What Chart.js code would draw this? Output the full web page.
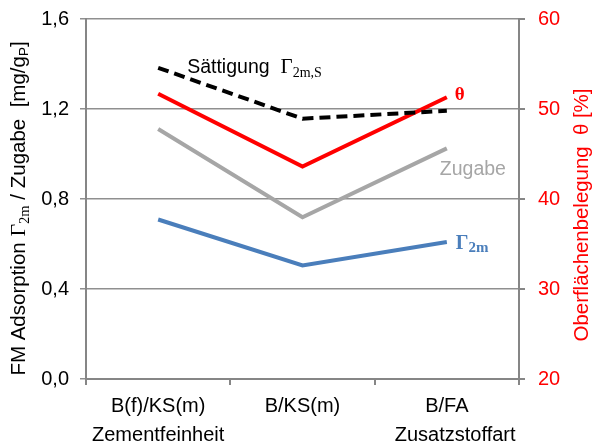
<!DOCTYPE html>
<html><head><meta charset="utf-8">
<script src="https://cdn.jsdelivr.net/npm/chart.js@4/dist/chart.umd.min.js"></script>
<style>html,body{margin:0;padding:0;background:#fff}</style>
</head><body>
<div style="width:594px;height:447px"><canvas id="c" width="594" height="447"></canvas></div>
<script>
const categories = [['B(f)/KS(m)','Zementfeinheit'],['B/KS(m)',''],['B/FA','   Zusatzstoffart']];
const saettigung = [1.383, 1.157, 1.192];
const theta = [51.7, 43.6, 51.3];
const zugabe = [1.111, 0.719, 1.025];
const gamma2m = [0.709, 0.505, 0.609];
const leftTicks = [0, 0.4, 0.8, 1.2, 1.6];
const rightTicks = [20, 30, 40, 50, 60];

const SANS = '"Liberation Sans", Arial, sans-serif';
const SERIF = '"Liberation Serif", "Times New Roman", serif';
const GRID = '#8f8f8f';
const AXIS = '#868686';
const RED = '#ff0000';
const BLUE = '#4a7ebb';
const GRAY = '#a6a6a6';

function richWidth(ctx, segs){
  let w = 0;
  for (const s of segs){
    if (s.gap) { w += s.gap; continue; }
    ctx.font = s.font; w += ctx.measureText(s.text).width;
  }
  return w;
}
function drawRich(ctx, segs, x, y){ // x = start, y = baseline
  let cx = x;
  for (const s of segs){
    if (s.gap) { cx += s.gap; continue; }
    ctx.font = s.font; ctx.fillStyle = s.color;
    ctx.fillText(s.text, cx, y + (s.dy || 0));
    cx += ctx.measureText(s.text).width;
  }
}

const annotations = {
  id: 'annotations',
  afterDatasetsDraw(chart){
    const ctx = chart.ctx;
    const pt = (d, i) => chart.getDatasetMeta(d).data[i];
    ctx.save();
    ctx.textAlign = 'left';
    ctx.textBaseline = 'alphabetic';
    // Sättigung label
    const p0 = pt(0, 0);
    drawRich(ctx, [
      {text: 'Sättigung', font: '19.5px ' + SANS, color: '#000'},
      {gap: 11},
      {text: 'Γ', font: '21px ' + SERIF, color: '#000'},
      {text: '2m,S', font: '14px ' + SERIF, color: '#000', dy: 4}
    ], p0.x + 29, p0.y + 5);
    // theta label
    const p1 = pt(1, 2);
    drawRich(ctx, [{text: 'θ', font: 'bold 19px ' + SERIF, color: RED}], p1.x + 8, p1.y + 3);
    // Zugabe label
    const p2 = pt(2, 2);
    drawRich(ctx, [{text: 'Zugabe', font: '19.5px ' + SANS, color: GRAY}], p2.x - 7, p2.y + 27);
    // Gamma2m label
    const p3 = pt(3, 2);
    drawRich(ctx, [
      {text: 'Γ', font: 'bold 20px ' + SERIF, color: BLUE},
      {text: '2m', font: 'bold 15px ' + SERIF, color: BLUE, dy: 3}
    ], p3.x + 9, p3.y + 7);

    // left axis title
    const F = '20.5px ' + SANS;
    const leftSegs = [
      {text: 'FM Adsorption ', font: F, color: '#000'},
      {text: 'Γ', font: '22px ' + SERIF, color: '#000'},
      {text: '2m', font: '14.5px ' + SERIF, color: '#000', dy: 4},
      {text: ' / Zugabe  [mg/g', font: F, color: '#000'},
      {text: 'P', font: '13.5px ' + SANS, color: '#000', dy: 3},
      {text: ']', font: F, color: '#000'}
    ];
    ctx.save();
    ctx.translate(25, 208.5);
    ctx.rotate(-Math.PI / 2);
    drawRich(ctx, leftSegs, -richWidth(ctx, leftSegs) / 2, 0);
    ctx.restore();
    // right axis title
    const rightSegs = [{text: 'Oberflächenbelegung  θ [%]', font: '20.4px ' + SANS, color: RED}];
    ctx.save();
    ctx.translate(588, 215);
    ctx.rotate(-Math.PI / 2);
    drawRich(ctx, rightSegs, -richWidth(ctx, rightSegs) / 2, 0);
    ctx.restore();
    ctx.restore();
  }
};

function noPad(s){ s.paddingTop = 0; s.paddingBottom = 0; s.paddingLeft = 0; s.paddingRight = 0; }

new Chart(document.getElementById('c'), {
  type: 'line',
  data: {
    labels: categories,
    datasets: [
      {label: 'Sättigung', data: saettigung, yAxisID: 'y', borderColor: '#000', borderWidth: 4, borderDash: [11, 6], borderCapStyle: 'butt', order: 1},
      {label: 'θ', data: theta, yAxisID: 'y1', borderColor: RED, borderWidth: 4, order: 2},
      {label: 'Zugabe', data: zugabe, yAxisID: 'y', borderColor: GRAY, borderWidth: 4, order: 3},
      {label: 'Γ2m', data: gamma2m, yAxisID: 'y', borderColor: BLUE, borderWidth: 4, order: 4}
    ]
  },
  options: {
    responsive: false,
    animation: false,
    events: [],
    elements: {point: {radius: 0, hoverRadius: 0, hitRadius: 0}, line: {tension: 0, fill: false, borderJoinStyle: 'miter'}},
    layout: {autoPadding: false, padding: {top: 19, left: 0, right: 0, bottom: 0}},
    plugins: {legend: {display: false}, tooltip: {enabled: false}},
    scales: {
      x: {
        type: 'category',
        offset: true,
        grid: {offset: true, drawOnChartArea: false, drawTicks: true, tickLength: 6, color: AXIS, lineWidth: 2},
        border: {color: AXIS, width: 2},
        ticks: {color: '#000', font: {family: SANS, size: 20, lineHeight: 1.45}, padding: 7, maxRotation: 0, autoSkip: false},
        afterFit(s){ s.height = 68; noPad(s); }
      },
      y: {
        position: 'left',
        min: 0, max: 1.6,
        afterBuildTicks(s){ s.ticks = leftTicks.map(v => ({value: v})); },
        grid: {color: GRID, lineWidth: 1.5, tickLength: 6, drawTicks: true},
        border: {color: AXIS, width: 2},
        ticks: {color: '#000', font: {family: SANS, size: 20}, padding: 11, callback: v => v.toFixed(1).replace('.', ',')},
        afterFit(s){ s.width = 86; noPad(s); }
      },
      y1: {
        position: 'right',
        min: 20, max: 60,
        afterBuildTicks(s){ s.ticks = rightTicks.map(v => ({value: v})); },
        grid: {drawOnChartArea: false, color: AXIS, lineWidth: 2, tickLength: 6, drawTicks: true},
        border: {color: AXIS, width: 2},
        ticks: {color: RED, font: {family: SANS, size: 20}, padding: 13, callback: v => String(v)},
        afterFit(s){ s.width = 75; noPad(s); }
      }
    }
  },
  plugins: [annotations]
});
</script>
</body></html>
